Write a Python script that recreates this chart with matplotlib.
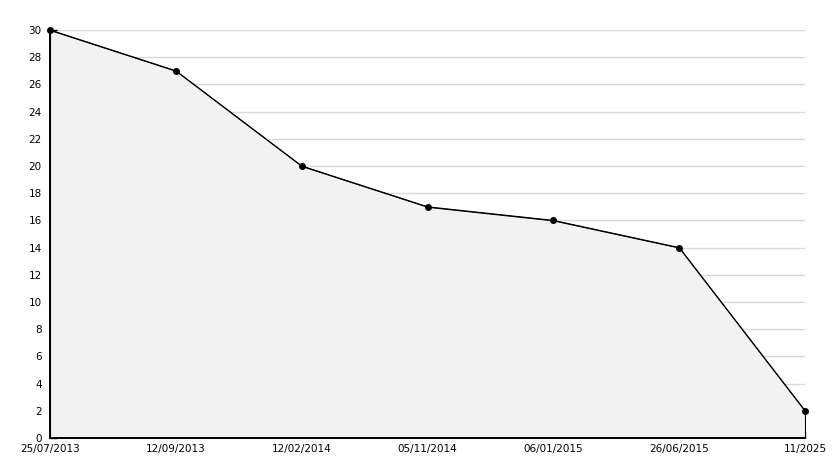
import matplotlib
matplotlib.use("Agg")
import matplotlib.pyplot as plt
from matplotlib.ticker import MultipleLocator

labels = ["25/07/2013", "12/09/2013", "12/02/2014", "05/11/2014", "06/01/2015", "26/06/2015", "11/2025"]
values = [30, 27, 20, 17, 16, 14, 2]

plt.rcParams['font.family'] = ['DejaVu Sans']
fig = plt.figure(figsize=(8.34, 4.68), dpi=100)
ax = fig.add_axes([50/834, 1-438/468, 755/834, 408/468])
x = list(range(len(labels)))

ax.fill_between(x, values, 0, facecolor="#f2f2f2", edgecolor="black", linewidth=0.8, zorder=1)
ax.plot(x, values, color="black", linewidth=0.8, marker="o", markersize=4, zorder=3, clip_on=False)

ax.set_xlim(0, len(labels)-1)
ax.set_ylim(0, 30)
ax.yaxis.set_major_locator(MultipleLocator(2))
ax.yaxis.set_minor_locator(MultipleLocator(1))
ax.set_xticks(x)
ax.set_xticklabels(labels)
ax.grid(axis="y", which="major", color="#d9d9d9", linewidth=1, zorder=0)
ax.set_axisbelow(True)
for s in ["top", "right"]:
    ax.spines[s].set_visible(False)
for s in ["left", "bottom"]:
    ax.spines[s].set_linewidth(1.4)
ax.tick_params(axis="y", which="major", direction="in", length=5, width=1, labelsize=7.5, pad=6)
ax.tick_params(axis="y", which="minor", direction="in", length=4, width=1)
ax.tick_params(axis="x", direction="in", length=5, width=1, labelsize=7.5, pad=4)

fig.savefig("out.png", dpi=100)
